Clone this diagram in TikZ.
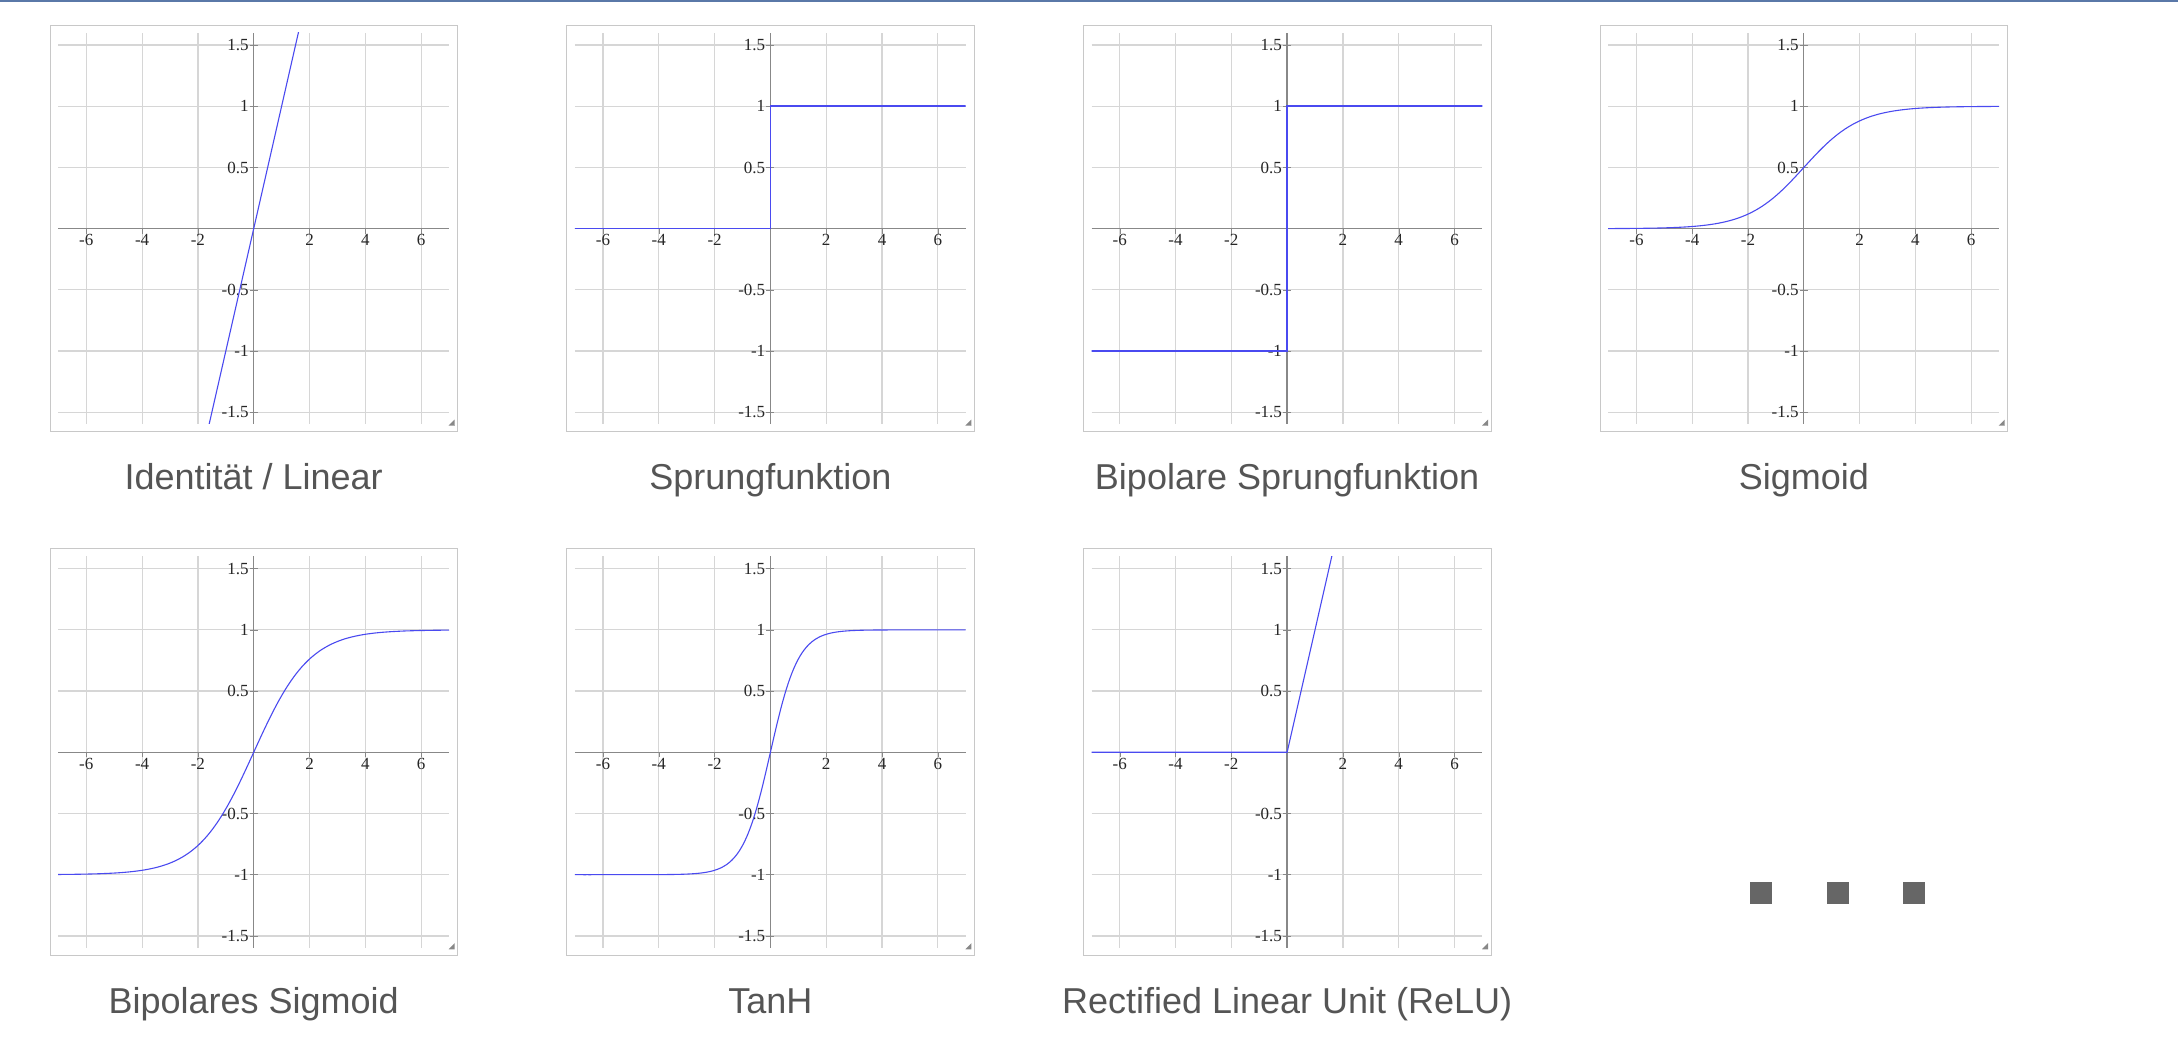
\documentclass[tikz,border=0pt]{standalone}
\usepackage{fontspec}
\setmainfont{Liberation Serif}
\newfontfamily\capfont{Liberation Sans}
\definecolor{gridc}{HTML}{D6D6D6}
\definecolor{axc}{HTML}{888888}
\definecolor{boxc}{HTML}{C8C8C8}
\definecolor{curve}{HTML}{4A4AF0}
\definecolor{capc}{HTML}{555555}
\definecolor{topc}{HTML}{5A78A8}
\tikzset{
  fn/.style={curve, line width=1.1pt},
  stepfn/.style={curve, line width=1.6pt},
  tick/.style={font=\fontsize{17}{18}\selectfont, text=black!85, inner sep=1pt},
  captxt/.style={font=\capfont\fontsize{36}{42}\selectfont, text=capc, anchor=base},
}
\newcommand\panel[4]{%
\begin{scope}[shift={({253.7pt+#1*516.7pt},{1052pt-228.7pt-#2*523.6pt})}, x=27.9pt, y=122.4pt]
  \draw[boxc, line width=1pt] (-7.30,-1.661) rectangle (7.31,1.664);
  \foreach \gx in {-6,-4,-2,2,4,6} \draw[gridc, line width=1.2pt] (\gx,-1.595) -- (\gx,1.60);
  \foreach \gy in {-1.5,-1,-0.5,0.5,1,1.5} \draw[gridc, line width=1.2pt] (-7.01,\gy) -- (7.0,\gy);
  \draw[axc, line width=1.3pt] (-7.01,0) -- (7.0,0);
  \draw[axc, line width=1.3pt] (0,-1.595) -- (0,1.60);
  \foreach \gx in {-6,-4,-2,2,4,6} {\draw[axc] (\gx,0) -- ++(0,-5pt); \node[tick, anchor=base] at (\gx,-17pt) {\gx};}
  \foreach \gy/\lab in {-1.5/-1.5,-1/-1,-0.5/-0.5,0.5/0.5,1/1,1.5/1.5} {\draw[axc] (-4pt,\gy) -- (4pt,\gy); \node[tick, anchor=east] at (-4pt,\gy) {\lab};}
  \fill[axc] (7.2,-1.61) -- (7.2,-1.56) -- ++(-6pt,-6pt) -- cycle;
  \begin{scope}
    \clip (-7.01,-1.595) rectangle (7.0,1.60);
    #4
  \end{scope}
  \node[captxt] (#3) at (0,-2.13) {\csname cap#3\endcsname};
\end{scope}}
\expandafter\def\csname capA\endcsname{Identität / Linear}
\expandafter\def\csname capB\endcsname{Sprungfunktion}
\expandafter\def\csname capC\endcsname{Bipolare Sprungfunktion}
\expandafter\def\csname capD\endcsname{Sigmoid}
\expandafter\def\csname capE\endcsname{Bipolares Sigmoid}
\expandafter\def\csname capF\endcsname{TanH}
\expandafter\def\csname capG\endcsname{Rectified Linear Unit (ReLU)}
\begin{document}
\begin{tikzpicture}[x=1pt,y=1pt]
\useasboundingbox (0,0) rectangle (2178,1052);
\fill[white] (0,0) rectangle (2178,1052);
\draw[topc, line width=2pt] (0,1051) -- (2178,1051);
\panel{0}{0}{A}{\draw[fn] (-1.7,-1.7) -- (1.7,1.7);}
\panel{1}{0}{B}{\draw[stepfn] (-7.1,0) -- (0,0) -- (0,1) -- (7.1,1);}
\panel{2}{0}{C}{\draw[stepfn] (-7.1,-1) -- (0,-1) -- (0,1) -- (7.1,1);}
\panel{3}{0}{D}{\draw[fn] plot[domain=-7.1:7.1, samples=120, smooth] (\x,{1/(1+exp(-\x))});}
\panel{0}{1}{E}{\draw[fn] plot[domain=-7.1:7.1, samples=120, smooth] (\x,{2/(1+exp(-\x))-1});}
\panel{1}{1}{F}{\draw[fn] plot[domain=-7.1:7.1, samples=160, smooth] (\x,{tanh(\x)});}
\panel{2}{1}{G}{\draw[fn] (-7.1,0) -- (0,0) -- (1.7,1.7);}
\foreach \dx [count=\i] in {1761,1838,1914}
  \fill[black!60] (\dx-11,1052-893-11) rectangle ++(22,22) node[coordinate] (dot\i) {};
\end{tikzpicture}
\end{document}
